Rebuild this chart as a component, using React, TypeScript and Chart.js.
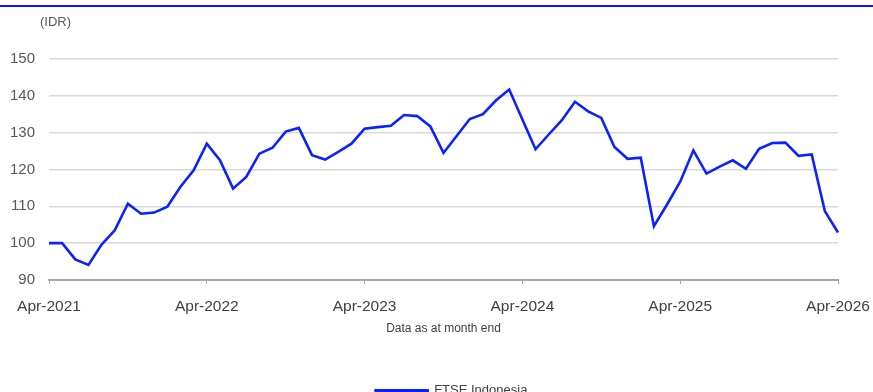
import React, { useEffect, useRef } from "react";
import { Chart, registerables } from "chart.js";

Chart.register(...registerables);

const MONTHS = ["Jan", "Feb", "Mar", "Apr", "May", "Jun", "Jul", "Aug", "Sep", "Oct", "Nov", "Dec"];

// Monthly categories Apr-2021 .. Apr-2026
const categories: string[] = [];
for (let y = 2021; y <= 2026; y++) {
  for (let m = 0; m < 12; m++) {
    if (y === 2021 && m < 3) continue;
    if (y === 2026 && m > 3) continue;
    categories.push(`${MONTHS[m]}-${y}`);
  }
}

const xTickLabels = ["Apr-2021", "Apr-2022", "Apr-2023", "Apr-2024", "Apr-2025", "Apr-2026"];

const seriesName = "FTSE Indonesia";
const ftseIndonesia = [
  100.0, 100.0, 95.6, 94.1, 99.6, 103.5, 110.7, 108.0, 108.3,
  109.9, 115.3, 119.8, 127.0, 122.5, 114.8, 118.0, 124.3, 125.9, 130.3, 131.3, 123.9,
  122.7, 124.8, 127.0, 131.1, 131.5, 131.9, 134.8, 134.5, 131.7, 124.5, 129.1, 133.7,
  135.0, 138.8, 141.7, 133.6, 125.5, 129.5, 133.4, 138.4, 135.8, 134.0, 126.1, 122.9,
  123.2, 104.6, 110.5, 116.7, 125.2, 118.9, 120.8, 122.5, 120.2, 125.6, 127.2, 127.3,
  123.7, 124.1, 108.7, 102.9,
];

const yTicks = [90, 100, 110, 120, 130, 140, 150];
const yUnit = "(IDR)";
const xTitle = "Data as at month end";

const FONT = "'Liberation Sans', Arial, Helvetica, sans-serif";
const BLUE = "#0a22ff";

const unitLabelPlugin = {
  id: "unitLabel",
  afterLayout(chart: any) {
    // nudge the legend to the right, as in the reference
    if (chart.legend) {
      chart.legend.left += 8;
      chart.legend.right += 8;
    }
  },
  afterDraw(chart: any) {
    const ctx = chart.ctx;
    ctx.save();
    ctx.font = `13px ${FONT}`;
    ctx.fillStyle = "#595959";
    ctx.textAlign = "left";
    ctx.textBaseline = "middle";
    ctx.fillText(yUnit, 40, 22);
    ctx.restore();
  },
};

export default function App() {
  const ref = useRef<HTMLCanvasElement | null>(null);

  useEffect(() => {
    if (!ref.current) return;
    const chart = new Chart(ref.current, {
      type: "line",
      data: {
        labels: categories,
        datasets: [
          {
            label: seriesName,
            data: ftseIndonesia,
            borderColor: BLUE,
            backgroundColor: BLUE,
            borderWidth: 2.6,
            pointRadius: 0,
            tension: 0,
            fill: false,
          },
        ],
      },
      options: {
        responsive: false,
        animation: false,
        layout: { padding: { left: 0, right: 35, top: 59, bottom: 0 } },
        plugins: {
          legend: {
            position: "bottom",
            fullSize: false,
            labels: {
              boxWidth: 52,
              boxHeight: 0.6,
              padding: 10,
              color: "#404040",
              font: { family: FONT, size: 13 },
            },
          },
          tooltip: { enabled: false },
        },
        scales: {
          x: {
            type: "category",
            offset: false,
            afterFit: (s: any) => {
              s.height = 94;
              s.paddingLeft = 0;
              s.paddingRight = 0;
            },
            border: { display: true, color: "#a6a6a6", width: 2 },
            grid: {
              display: true,
              drawOnChartArea: false,
              drawTicks: true,
              tickLength: 4,
              color: (c: any) => (xTickLabels.includes(categories[c.index]) ? "#a6a6a6" : "rgba(0,0,0,0)"),
            },
            ticks: {
              autoSkip: false,
              maxRotation: 0,
              minRotation: 0,
              padding: 13,
              color: "#404040",
              font: { family: FONT, size: 15.5 },
              callback: (_v: any, i: number) => (xTickLabels.includes(categories[i]) ? categories[i] : ""),
            },
            title: {
              display: true,
              text: xTitle,
              color: "#404040",
              font: { family: FONT, size: 12 },
              padding: { top: 9, bottom: 38 },
            },
          },
          y: {
            min: yTicks[0],
            max: yTicks[yTicks.length - 1],
            afterFit: (s: any) => {
              s.width = 49;
            },
            afterBuildTicks: (s: any) => {
              s.ticks = yTicks.map((v) => ({ value: v }));
            },
            border: { display: false },
            grid: {
              color: "#d9d9d9",
              lineWidth: 1.5,
              drawTicks: false,
            },
            ticks: {
              padding: 14,
              color: "#595959",
              font: { family: FONT, size: 15 },
            },
          },
        },
      },
      plugins: [unitLabelPlugin],
    });
    return () => chart.destroy();
  }, []);

  return (
    <div style={{ position: "absolute", left: 0, top: 0, width: 873, height: 392, overflow: "hidden", background: "#fff" }}>
      <div style={{ position: "absolute", left: 0, top: 5, width: 873, height: 2, background: "#0a10ff" }} />
      <canvas ref={ref} width={873} height={407} style={{ position: "absolute", left: 0, top: 0, display: "block" }} />
    </div>
  );
}
